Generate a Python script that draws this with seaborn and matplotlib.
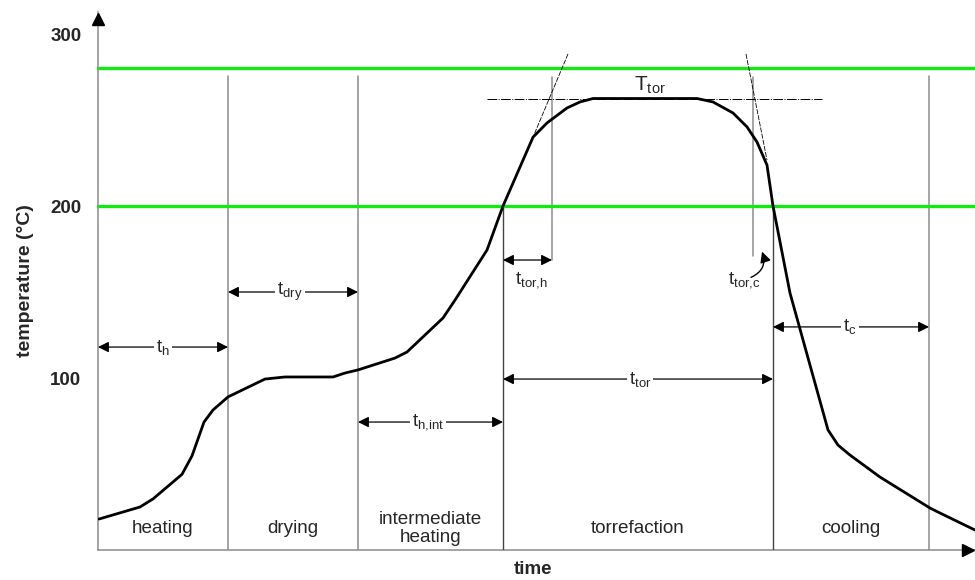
import matplotlib
matplotlib.use("Agg")
import matplotlib.pyplot as plt
import seaborn as sns
import pandas as pd

# Temperature profile of a torrefaction run (time in arbitrary units, temperature in °C)
time_pts = [0.1, 4.2, 5.5, 8.4, 9.4, 10.6, 11.5, 13.0, 16.7, 18.7, 23.5, 24.7, 26.0,
            29.7, 30.9, 34.5, 35.7, 38.9, 40.5, 43.5, 44.9, 46.9, 48.2, 49.5, 59.9,
            61.5, 63.5, 64.9, 65.9, 66.9, 67.5, 69.2, 73.0, 74.0, 75.2, 78.2, 83.2,
            84.2, 87.7]
temp_pts = [18, 25, 29.7, 44, 54.7, 74.4, 81.4, 89, 99.4, 100.6, 100.6, 102.9, 104.7,
            111.6, 115.1, 134.9, 145.3, 174.4, 200, 240, 248.3, 257, 260.5, 262.5, 262.5,
            260.5, 254.1, 246, 237.2, 223.8, 200, 149.4, 69.8, 61, 55.2, 42.4, 24.4,
            21.5, 11.6]

# Stage boundaries (time) and stage names
stage_bounds = [0.0, 13.0, 26.0, 40.5, 67.5, 83.1]
stage_names = ["heating", "drying", "intermediate\nheating", "torrefaction", "cooling"]
duration_labels = [r"$\mathrm{t_{h}}$", r"$\mathrm{t_{dry}}$", r"$\mathrm{t_{h,\!int}}$",
                   r"$\mathrm{t_{tor}}$", r"$\mathrm{t_{c}}$"]

# Reference temperatures
temp_limits = [200, 280]
T_tor = 262.5
ytick_vals = [100, 200, 300]
ytick_labels = ["100", "200", "300"]

sns.set_style("white")
plt.rcParams["font.family"] = ["Liberation Sans", "DejaVu Sans"]
plt.rcParams["mathtext.fontset"] = "custom"
plt.rcParams["mathtext.rm"] = "Liberation Sans"
plt.rcParams["mathtext.it"] = "Liberation Sans:italic"

fig = plt.figure(figsize=(9.75, 5.8), dpi=100)
ax = fig.add_axes([98 / 975, 30 / 580, 877 / 975, 538 / 580])
XMAX, YMAX = 87.7, 312.8

axis_grey = "#8c8c8c"

# temperature curve
df = pd.DataFrame({"time": time_pts, "temperature": temp_pts})
sns.lineplot(data=df, x="time", y="temperature", ax=ax, color="black", lw=2.0,
             sort=False, estimator=None, zorder=5)
ax.set_xlim(0, XMAX)
ax.set_ylim(0, YMAX)

for side in ["top", "right"]:
    ax.spines[side].set_visible(False)
for side in ["left", "bottom"]:
    ax.spines[side].set_color(axis_grey)
    ax.spines[side].set_linewidth(1.1)
    ax.spines[side].set_zorder(1)
# arrow heads on both axes
ax.plot([0], [YMAX - 3.8], marker="^", color="black", markersize=9, clip_on=False, zorder=6)
ax.plot([XMAX - 0.7], [0], marker=">", color="black", markersize=9, clip_on=False, zorder=6)

ax.set_xticks([])
ax.set_yticks(ytick_vals)
ax.set_yticklabels(ytick_labels, fontsize=13.5, fontweight="bold")
ax.tick_params(axis="y", length=0, pad=12)
ax.set_xlabel("")
ax.set_ylabel("temperature (°C)", fontsize=14, fontweight="bold", labelpad=12)
fig.text(533 / 975, 1 - 569 / 580, "time", ha="center", va="center",
         fontsize=13.5, fontweight="bold")

# reference temperature bands
for lim in temp_limits:
    ax.axhline(lim, color="#12e812", lw=2.4, zorder=3, clip_on=False)

# stage boundaries
for b in stage_bounds[1:3] + stage_bounds[5:]:
    ax.plot([b, b], [0, 275.6], color=axis_grey, lw=1.1, zorder=2)
for b in stage_bounds[3:5]:
    ax.plot([b, b], [0, 200], color="#444444", lw=1.0, zorder=2)

# stage names
for (a, b), name in zip(zip(stage_bounds[:-1], stage_bounds[1:]), stage_names):
    ax.text((a + b) / 2, 12.5, name, ha="center", va="center", fontsize=13.6,
            linespacing=1.05)

# stage durations
arrow_heights = [118, 150, 74.4, 99.4, 129.7]
label_x = [6.5, 19.2, 33.0, 54.2, 75.2]
for (a, b), lab, h, lx in zip(zip(stage_bounds[:-1], stage_bounds[1:]), duration_labels,
                              arrow_heights, label_x):
    ax.annotate("", xy=(a, h), xytext=(b, h),
                arrowprops=dict(arrowstyle="<|-|>", color="black", lw=0.9,
                                mutation_scale=16, shrinkA=0, shrinkB=0), zorder=4)
    ax.text(lx, h, lab, ha="center", va="center", fontsize=13.5, zorder=5,
            bbox=dict(fc="white", ec="none", pad=1.5))

# torrefaction heating / cooling times from tangent construction
ax.plot([47.0, 43.5], [288.4, 240.0], color="black", lw=0.6, ls=(0, (6, 1.5)), zorder=4)
ax.plot([64.8, 66.9], [288.4, 226.7], color="black", lw=0.6, ls=(0, (6, 1.5)), zorder=4)
ax.plot([38.9, 72.4], [T_tor, T_tor], color="black", lw=0.7, ls=(0, (10, 1.5, 1, 1.5)), zorder=4)
ax.plot([45.4, 45.4], [168.6, 275.0], color=axis_grey, lw=1.1, zorder=2)
ax.plot([65.5, 65.5], [171.0, 275.0], color=axis_grey, lw=1.1, zorder=2)
ax.annotate("", xy=(40.5, 168.6), xytext=(45.4, 168.6),
            arrowprops=dict(arrowstyle="<|-|>", color="black", lw=0.9,
                            mutation_scale=16, shrinkA=0, shrinkB=0), zorder=4)
ax.text(43.4, 157, r"$\mathrm{t_{tor,\!h}}$", ha="center", va="center", fontsize=13.5)
ax.text(64.6, 157, r"$\mathrm{t_{tor,\!c}}$", ha="center", va="center", fontsize=13.5)
ax.annotate("", xy=(66.4, 173.5), xytext=(65.3, 158.5),
            arrowprops=dict(arrowstyle="-|>", color="black", lw=1.0, mutation_scale=16,
                            shrinkA=0, shrinkB=0, connectionstyle="arc3,rad=0.45"), zorder=4)
ax.text(55.2, 270.3, r"$\mathrm{T_{tor}}$", ha="center", va="center", fontsize=15)

fig.savefig("out.png", dpi=100)
